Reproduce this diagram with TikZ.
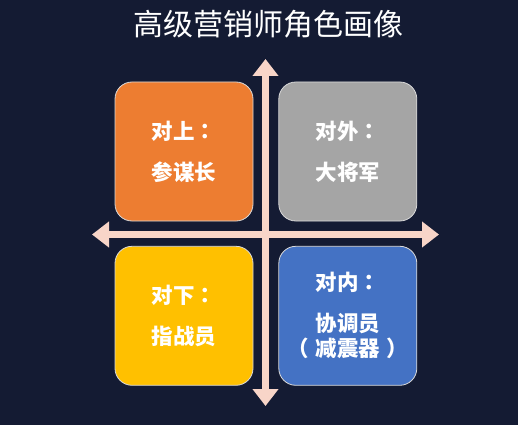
\documentclass[tikz,border=0pt]{standalone}
\usepackage{fontspec}
\setmainfont{Noto Sans CJK SC}
\newfontfamily\tcpunct{Noto Sans CJK TC}
\usepackage{xcolor}
\usepackage{tikz}
\usetikzlibrary{arrows.meta, positioning}

\definecolor{bgnavy}{HTML}{141B33}
\definecolor{axispink}{HTML}{F8D5C8}
\definecolor{boxline}{HTML}{D9D9D9}
\definecolor{quadorange}{HTML}{ED7D31}
\definecolor{quadgray}{HTML}{A5A5A5}
\definecolor{quadyellow}{HTML}{FFC000}
\definecolor{quadblue}{HTML}{4472C4}

% centred full-width punctuation
\newcommand{\qcolon}{{\tcpunct ：}}
\newcommand{\qlpar}{{\tcpunct （}\hspace{0.3em}}
\newcommand{\qrpar}{\hspace{0.3em}{\tcpunct ）}}

\begin{document}
\begin{tikzpicture}[x=1pt, y=-1pt, node distance=24.5pt and 25pt,
  quad box/.style={rectangle, rounded corners=17pt, draw=boxline, line width=0.8pt,
    minimum width=138pt, minimum height=139pt, inner sep=0pt, align=center,
    text=white, font=\bfseries\fontsize{21.5}{25}\selectfont},
  axis arrow/.style={draw=axispink, line width=7pt,
    {Triangle[length=17pt, width=25pt]}-{Triangle[length=17pt, width=25pt]}}]

  \fill[bgnavy] (0,0) rectangle (518,425);
  \useasboundingbox (0,0) rectangle (518,425);

  \node[text=white, font=\fontsize{30}{32}\selectfont] (title) at (268,24) {高级营销师角色画像};

  % the four quadrants
  \node[quad box, fill=quadorange] (up) at (184,151.5) {对上\qcolon\\[16pt]参谋长};
  \node[quad box, fill=quadgray] (ext) [right=of up] {对外\qcolon\\[16pt]大将军};
  \node[quad box, fill=quadyellow] (down) [below=of up] {对下\qcolon\\[16pt]指战员};
  \node[quad box, fill=quadblue] (int) [below=of ext] {对内\qcolon\\[16pt]协调员\\\qlpar 减震器\qrpar};

  % axes
  \coordinate (ytop) at (265.5,59);
  \coordinate (ybot) at (265.5,406);
  \coordinate (xleft) at (92,234.5);
  \coordinate (xright) at (439,234.5);
  \draw[axis arrow] (ybot) -- (ytop);
  \draw[axis arrow] (xleft) -- (xright);
\end{tikzpicture}
\end{document}
